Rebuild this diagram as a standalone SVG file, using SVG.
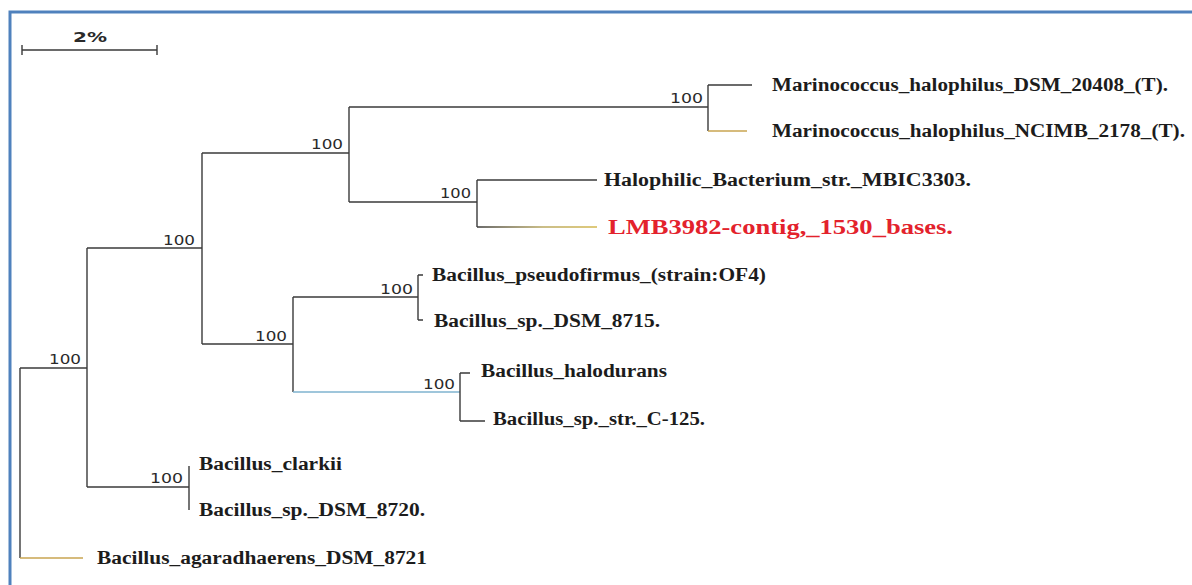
<svg xmlns="http://www.w3.org/2000/svg" width="1192" height="585" viewBox="0 0 1192 585">
  <defs>
    <style>
      .br { stroke: #3a3a3a; stroke-width: 1.4; fill: none; }
      .yl { stroke: #c9a551; }
      .bl { stroke: #7fb3cf; }
      .lab { font-family: "Liberation Serif", "Times New Roman", serif; font-weight: bold; font-size: 18px; fill: #1c1c1c; }
      .red { font-family: "Liberation Serif", "Times New Roman", serif; font-weight: bold; font-size: 21px; fill: #e3222c; }
      .bs { font-family: "DejaVu Sans", "Liberation Sans", sans-serif; font-size: 14px; fill: #2a2a2a; }
      .sc { font-family: "DejaVu Sans", "Liberation Sans", sans-serif; font-weight: bold; font-size: 14px; fill: #2a2a2a; }
    </style>
    <linearGradient id="gY" gradientUnits="userSpaceOnUse" x1="477" y1="0" x2="597" y2="0">
      <stop offset="0" stop-color="#3a3a3a"/>
      <stop offset="0.55" stop-color="#b9a860"/>
      <stop offset="1" stop-color="#d4b84e"/>
    </linearGradient>
  </defs>
  <rect x="0" y="0" width="1192" height="585" fill="#ffffff"/>
  <!-- frame -->
  <path d="M10 585 V12 H1192" fill="none" stroke="#4f81bd" stroke-width="3"/>

  <!-- scale bar -->
  <g id="scale">
    <path class="br" d="M22 50 H157 M22 45 V55 M157 45 V55"/>
    <text class="sc" x="73" y="42" textLength="34" lengthAdjust="spacingAndGlyphs">2%</text>
  </g>

  <g id="connectors">
    <!-- root -->
    <path class="br" d="M20 368 V558"/>
    <path class="br" d="M20 368 H87"/>
    <path class="br yl" d="M20 558 H83"/>
    <!-- node A (87) -->
    <path class="br" d="M87 248 V487"/>
    <path class="br" d="M87 248 H202"/>
    <path class="br" d="M87 487 H189"/>
    <!-- node B (202) -->
    <path class="br" d="M202 153 V344"/>
    <path class="br" d="M202 153 H349"/>
    <path class="br" d="M202 344 H293"/>
    <!-- node C (349) -->
    <path class="br" d="M349 107 V202"/>
    <path class="br" d="M349 107 H708"/>
    <path class="br" d="M349 202 H477"/>
    <!-- Marinococcus -->
    <path class="br" d="M708 85 V131"/>
    <path class="br" d="M708 85 H752"/>
    <path class="br yl" d="M708 131 H747"/>
    <!-- Halophilic / LMB -->
    <path class="br" d="M477 180 V227"/>
    <path class="br" d="M477 180 H597"/>
    <path d="M477 227 H597" fill="none" stroke="url(#gY)" stroke-width="1.4"/>
    <!-- node D (293) -->
    <path class="br" d="M293 297 V392"/>
    <path class="br" d="M293 297 H418"/>
    <path class="br bl" d="M293 392 H460"/>
    <!-- pseudofirmus -->
    <path class="br" d="M418 275 V320 M418 275 H423 M418 320 H423"/>
    <!-- halodurans -->
    <path class="br" d="M460 373 V421 M460 373 H470 M460 421 H485"/>
    <!-- clarkii -->
    <path class="br" d="M189 466 V510"/>
  </g>

  <g id="bootstrap">
    <text class="bs" x="49" y="364" textLength="32" lengthAdjust="spacingAndGlyphs">100</text>
    <text class="bs" x="163" y="245" textLength="32" lengthAdjust="spacingAndGlyphs">100</text>
    <text class="bs" x="311" y="149" textLength="32" lengthAdjust="spacingAndGlyphs">100</text>
    <text class="bs" x="670" y="103" textLength="33" lengthAdjust="spacingAndGlyphs">100</text>
    <text class="bs" x="440" y="198" textLength="31" lengthAdjust="spacingAndGlyphs">100</text>
    <text class="bs" x="255" y="341" textLength="32" lengthAdjust="spacingAndGlyphs">100</text>
    <text class="bs" x="380" y="294" textLength="33" lengthAdjust="spacingAndGlyphs">100</text>
    <text class="bs" x="423" y="389" textLength="32" lengthAdjust="spacingAndGlyphs">100</text>
    <text class="bs" x="150" y="483" textLength="33" lengthAdjust="spacingAndGlyphs">100</text>
  </g>

  <g id="n-marino-dsm"><text class="lab" x="772" y="91" textLength="396" lengthAdjust="spacingAndGlyphs">Marinococcus_halophilus_DSM_20408_(T).</text></g>
  <g id="n-marino-ncimb"><text class="lab" x="772" y="137" textLength="413" lengthAdjust="spacingAndGlyphs">Marinococcus_halophilus_NCIMB_2178_(T).</text></g>
  <g id="n-halophilic"><text class="lab" x="604" y="186" textLength="367" lengthAdjust="spacingAndGlyphs">Halophilic_Bacterium_str._MBIC3303.</text></g>
  <g id="n-lmb"><text class="red" x="608" y="234" textLength="345" lengthAdjust="spacingAndGlyphs">LMB3982-contig,_1530_bases.</text></g>
  <g id="n-pseudofirmus"><text class="lab" x="432" y="281" textLength="334" lengthAdjust="spacingAndGlyphs">Bacillus_pseudofirmus_(strain:OF4)</text></g>
  <g id="n-dsm8715"><text class="lab" x="434" y="327" textLength="226" lengthAdjust="spacingAndGlyphs">Bacillus_sp._DSM_8715.</text></g>
  <g id="n-halodurans"><text class="lab" x="481" y="377" textLength="186" lengthAdjust="spacingAndGlyphs">Bacillus_halodurans</text></g>
  <g id="n-c125"><text class="lab" x="493" y="425" textLength="212" lengthAdjust="spacingAndGlyphs">Bacillus_sp._str._C-125.</text></g>
  <g id="n-clarkii"><text class="lab" x="199" y="470" textLength="143" lengthAdjust="spacingAndGlyphs">Bacillus_clarkii</text></g>
  <g id="n-dsm8720"><text class="lab" x="199" y="516" textLength="226" lengthAdjust="spacingAndGlyphs">Bacillus_sp._DSM_8720.</text></g>
  <g id="n-agaradhaerens"><text class="lab" x="97" y="564" textLength="330" lengthAdjust="spacingAndGlyphs">Bacillus_agaradhaerens_DSM_8721</text></g>
</svg>
